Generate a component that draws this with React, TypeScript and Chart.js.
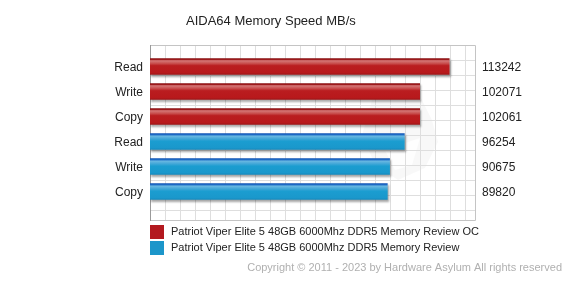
import React, { useEffect, useRef } from "react";
import { Chart, registerables } from "chart.js";

Chart.register(...registerables);

const TITLE = "AIDA64 Memory Speed MB/s";
const CATEGORIES = ["Read", "Write", "Copy", "Read", "Write", "Copy"];
const SERIES_NAMES = [
  "Patriot Viper Elite 5 48GB 6000Mhz DDR5 Memory Review OC",
  "Patriot Viper Elite 5 48GB 6000Mhz DDR5 Memory Review",
];
const OC_VALUES = [113242, 102071, 102061];
const STOCK_VALUES = [96254, 90675, 89820];
const X_MAX = 123000;
const COPYRIGHT = "Copyright \u00A9 2011 - 2023 by Hardware Asylum All rights reserved";

const FONT = "'Liberation Sans', Arial, sans-serif";
const RED = "#b3191f";
const BLUE = "#1c96ca";

const BAR_H = 16;

function makeGradient(kind: "red" | "blue") {
  return (c: any) => {
    const chart = c.chart;
    const fallback = kind === "red" ? RED : BLUE;
    const ys = chart.scales && chart.scales.y;
    if (!ys || c.dataIndex === undefined) return fallback;
    const cy = ys.getPixelForValue(c.dataIndex);
    if (!Number.isFinite(cy)) return fallback;
    const g = chart.ctx.createLinearGradient(0, cy - BAR_H / 2, 0, cy + BAR_H / 2);
    if (kind === "red") {
      g.addColorStop(0, "#8c1214");
      g.addColorStop(0.07, "#9e1a1c");
      g.addColorStop(0.14, "#d57878");
      g.addColorStop(0.3, "#c95050");
      g.addColorStop(0.45, "#ba1d20");
      g.addColorStop(0.88, "#b8191c");
      g.addColorStop(1, "#a01618");
    } else {
      g.addColorStop(0, "#1558b8");
      g.addColorStop(0.08, "#1e6cc6");
      g.addColorStop(0.16, "#6ab8e2");
      g.addColorStop(0.32, "#44a8d8");
      g.addColorStop(0.48, "#1b9dd0");
      g.addColorStop(0.88, "#1a98cc");
      g.addColorStop(1, "#168cc0");
    }
    return g;
  };
}

const decorPlugin = {
  id: "decor",
  beforeDatasetsDraw(chart: any) {
    const ctx = chart.ctx;
    const L = 150, T = 45, R = 475, B = 220;
    ctx.save();
    // watermark (faint)
    ctx.fillStyle = "rgba(0,0,0,0.028)";
    ctx.beginPath();
    ctx.moveTo(372, 100);
    ctx.lineTo(398, 88);
    ctx.lineTo(420, 96);
    ctx.lineTo(432, 120);
    ctx.lineTo(438, 142);
    ctx.lineTo(425, 168);
    ctx.lineTo(398, 180);
    ctx.lineTo(375, 165);
    ctx.lineTo(362, 135);
    ctx.closePath();
    ctx.fill();
    ctx.fillStyle = "rgba(255,255,255,0.8)";
    ctx.beginPath();
    ctx.moveTo(385, 150);
    ctx.lineTo(420, 138);
    ctx.lineTo(412, 165);
    ctx.lineTo(395, 170);
    ctx.closePath();
    ctx.fill();
    // grid
    ctx.strokeStyle = "#dedede";
    ctx.lineWidth = 1;
    ctx.beginPath();
    for (let x = L + 15; x < R; x += 15) {
      ctx.moveTo(x + 0.5, T);
      ctx.lineTo(x + 0.5, B);
    }
    for (let y = T + 15; y < B; y += 15) {
      ctx.moveTo(L, y + 0.5);
      ctx.lineTo(R, y + 0.5);
    }
    ctx.stroke();
    // frame
    ctx.strokeStyle = "#c4c4c4";
    ctx.beginPath();
    ctx.moveTo(L, T + 0.5);
    ctx.lineTo(R + 0.5, T + 0.5);
    ctx.lineTo(R + 0.5, B + 0.5);
    ctx.lineTo(L, B + 0.5);
    ctx.stroke();
    ctx.strokeStyle = "#9a9a9a";
    ctx.beginPath();
    ctx.moveTo(L + 0.5, T);
    ctx.lineTo(L + 0.5, B + 1);
    ctx.stroke();
    ctx.restore();
  },
  beforeDatasetDraw(chart: any) {
    const ctx = chart.ctx;
    ctx.save();
    ctx.shadowColor = "rgba(0,0,0,0.35)";
    ctx.shadowOffsetX = 1;
    ctx.shadowOffsetY = 2;
    ctx.shadowBlur = 2;
  },
  afterDatasetDraw(chart: any) {
    chart.ctx.restore();
  },
  afterDraw(chart: any) {
    const ctx = chart.ctx;
    ctx.save();
    // title
    ctx.fillStyle = "#222";
    ctx.font = `13px ${FONT}`;
    ctx.textAlign = "left";
    ctx.textBaseline = "middle";
    ctx.fillText(TITLE, 186, 21);
    // value labels
    ctx.font = `12px ${FONT}`;
    chart.data.datasets.forEach((ds: any, di: number) => {
      const meta = chart.getDatasetMeta(di);
      meta.data.forEach((el: any, i: number) => {
        const v = ds.data[i];
        if (v === null || v === undefined) return;
        ctx.fillText(String(v), 482, el.y + 1.5);
      });
    });
    // legend
    const colors = [RED, BLUE];
    ctx.font = `11px ${FONT}`;
    SERIES_NAMES.forEach((name, i) => {
      const y = 225 + i * 16;
      ctx.fillStyle = colors[i];
      ctx.fillRect(150, y, 14, 14);
      ctx.fillStyle = "#222";
      ctx.fillText(name, 171, y + 6.5);
    });
    // copyright
    ctx.fillStyle = "#b0b0b0";
    ctx.textAlign = "right";
    ctx.fillText(COPYRIGHT, 562, 268);
    ctx.restore();
  },
};

export default function App() {
  const ref = useRef<HTMLCanvasElement | null>(null);
  useEffect(() => {
    document.body.style.margin = "0";
    const canvas = ref.current;
    if (!canvas) return;
    const ocData: (number | null)[] = CATEGORIES.map((_, i) => (i < OC_VALUES.length ? OC_VALUES[i] : null));
    const stockData: (number | null)[] = CATEGORIES.map((_, i) =>
      i >= OC_VALUES.length ? STOCK_VALUES[i - OC_VALUES.length] ?? null : null
    );
    const chart = new Chart(canvas, {
      type: "bar",
      data: {
        labels: CATEGORIES,
        datasets: [
          {
            label: SERIES_NAMES[0],
            data: ocData,
            backgroundColor: makeGradient("red"),
            borderWidth: 0,
            barThickness: BAR_H,
            grouped: false,
          } as any,
          {
            label: SERIES_NAMES[1],
            data: stockData,
            backgroundColor: makeGradient("blue"),
            borderWidth: 0,
            barThickness: BAR_H,
            grouped: false,
          } as any,
        ],
      },
      options: {
        indexAxis: "y",
        responsive: false,
        animation: false,
        devicePixelRatio: 1,
        layout: { padding: { top: 54, bottom: 77, right: 95, left: 0 } },
        plugins: {
          legend: { display: false },
          title: { display: false },
          tooltip: { enabled: false },
        },
        scales: {
          x: { type: "linear", display: false, min: 0, max: X_MAX },
          y: {
            type: "category",
            grid: { display: false, drawTicks: false },
            border: { display: false },
            ticks: { color: "#222", font: { family: FONT, size: 12 }, padding: 7, labelOffset: 1.5 },
            afterFit: (scale: any) => {
              scale.width = 150;
            },
          },
        },
      } as any,
      plugins: [decorPlugin],
    });
    return () => chart.destroy();
  }, []);
  return (
    <div style={{ position: "fixed", left: 0, top: 0, width: 570, height: 281, background: "#fff" }}>
      <canvas ref={ref} width={570} height={281} style={{ display: "block", width: 570, height: 281 }} />
    </div>
  );
}
